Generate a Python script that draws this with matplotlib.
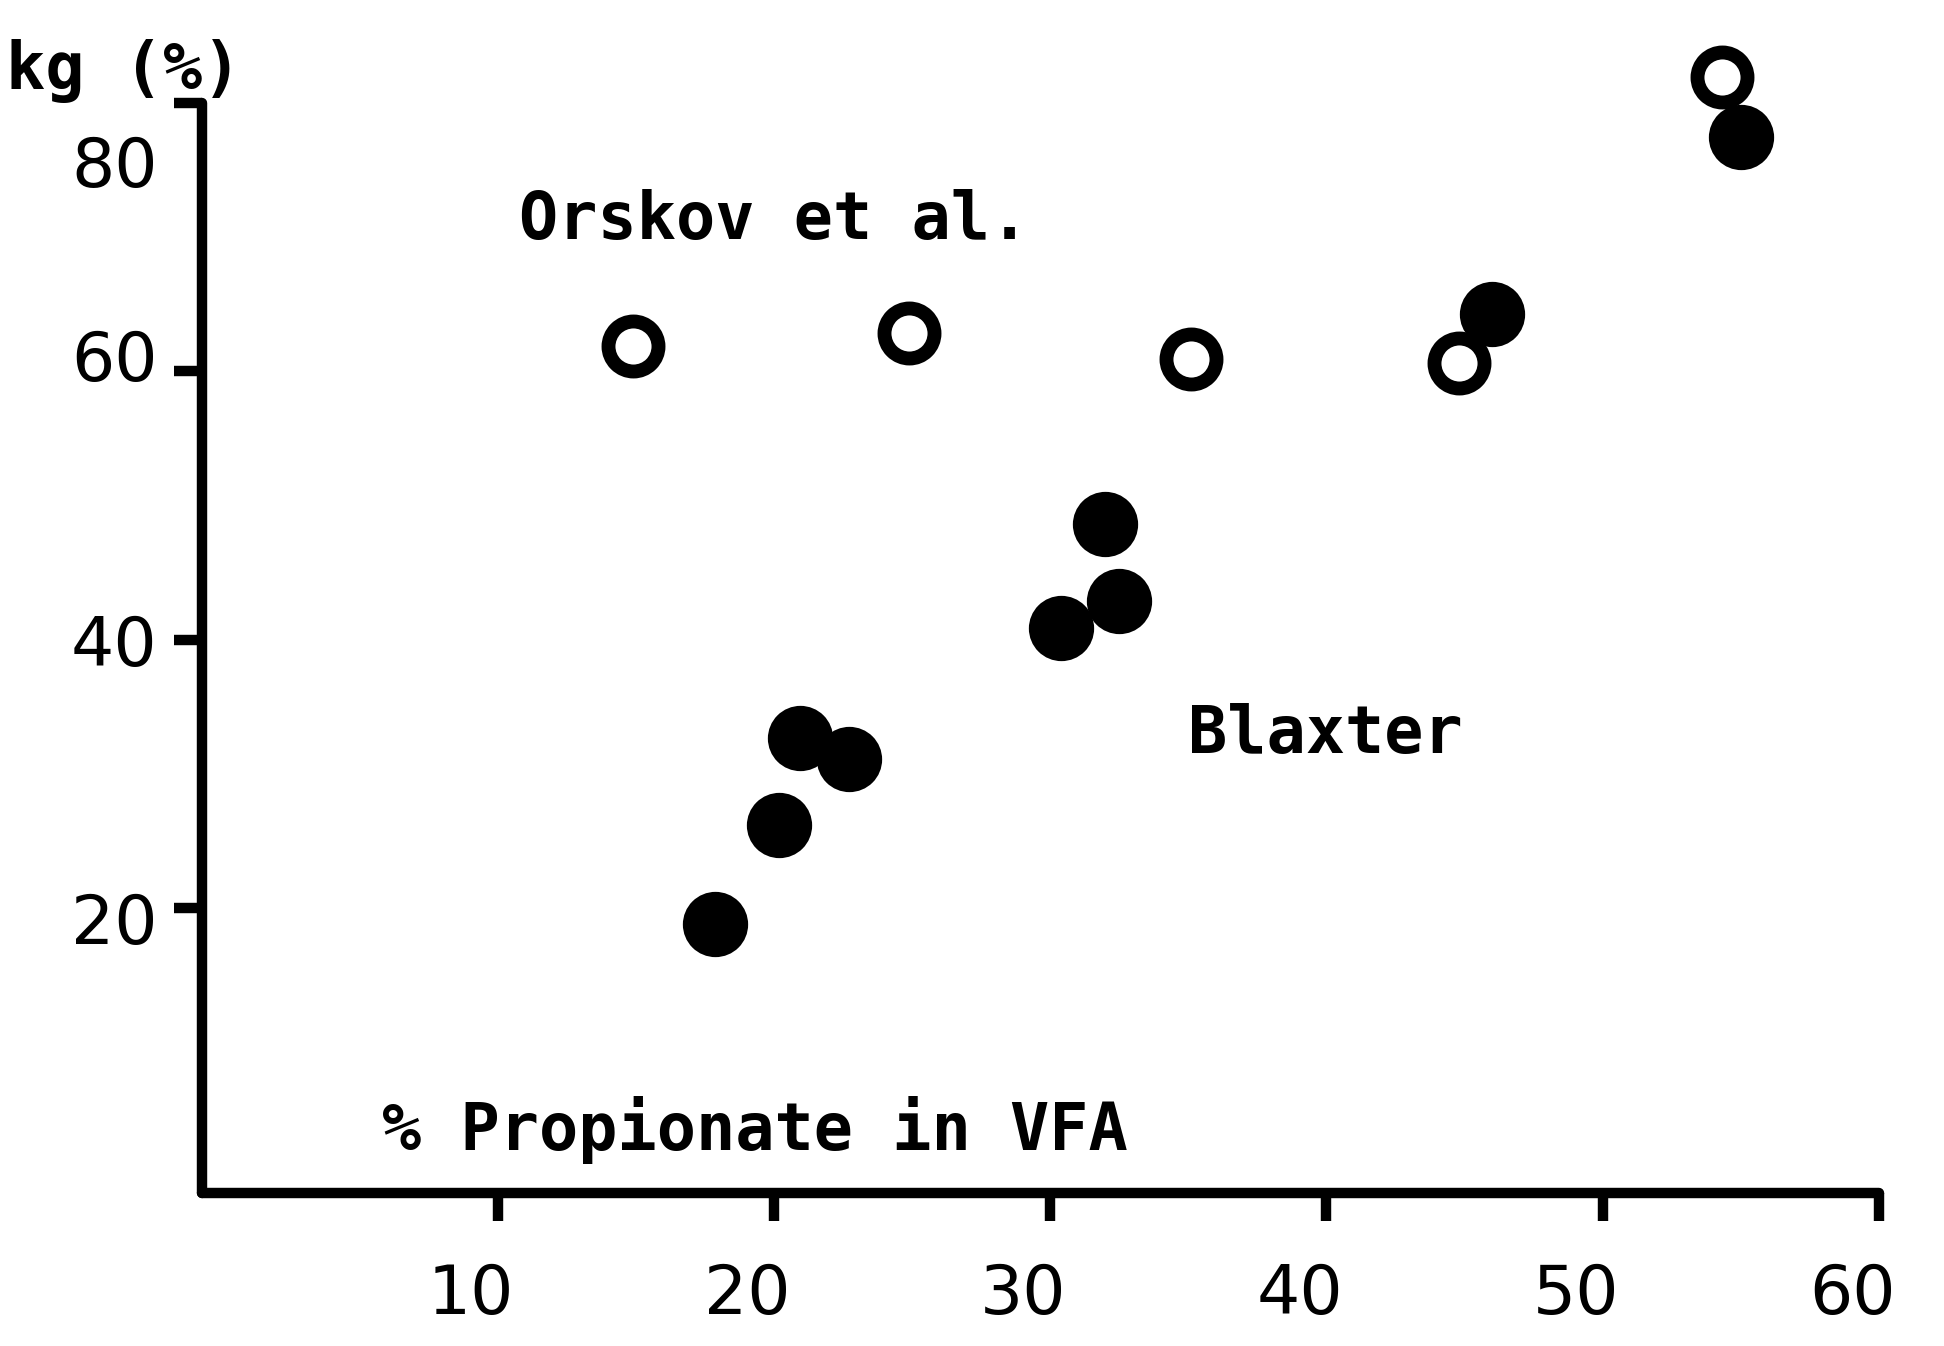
import matplotlib
matplotlib.use("Agg")
import matplotlib.pyplot as plt
import matplotlib.transforms as mtransforms

# Values
orskov_x = [14.9, 24.9, 35.1, 44.8, 54.3]
orskov_y = [61.9, 62.9, 60.9, 60.6, 81.9]

blaxter_x = [17.85, 20.2, 20.95, 22.7, 30.4, 32.0, 32.5, 46.0, 55.0]
blaxter_y = [18.8, 26.2, 32.7, 31.1, 40.9, 48.6, 42.9, 64.3, 77.5]

x_ticks = [10, 20, 30, 40, 50, 60]
y_ticks = [20, 40, 60, 80]

FONT = "DejaVu Sans Mono"
FS = 47
LW = 7.5

plt.rcParams["font.family"] = FONT
plt.rcParams["font.weight"] = "bold"

fig = plt.figure(figsize=(19.44, 13.46), dpi=100)
ax = fig.add_axes([0.1039, 0.1137, 0.8627, 0.8098])

ax.plot(blaxter_x, blaxter_y, "o", color="black", ms=47, mew=0,
        clip_on=False, zorder=3)
ax.plot(orskov_x, orskov_y, "o", mfc="white", mec="black", ms=36, mew=10,
        clip_on=False, zorder=4)

ax.set_xlim(-0.7, 60)
ax.set_ylim(-1.2, 80)

for side in ("top", "right"):
    ax.spines[side].set_visible(False)
for side in ("left", "bottom"):
    ax.spines[side].set_linewidth(LW)
    ax.spines[side].set_capstyle("round")

ax.set_xticks(x_ticks)
ax.set_yticks(y_ticks)
ax.tick_params(axis="both", direction="out", length=20, width=LW,
               labelsize=FS, color="black")
ax.tick_params(axis="x", pad=30)
ax.tick_params(axis="y", pad=12)

# plain zeros (the mono face draws a dotted zero)
for lbl in ax.get_xticklabels() + ax.get_yticklabels():
    lbl.set_fontfamily("DejaVu Sans")
    lbl.set_fontweight("normal")
    lbl.set_fontsize(49)

# hand-lettered labels sit a little off their ticks
for lbl in ax.get_xticklabels():
    lbl.set_transform(lbl.get_transform() +
                      mtransforms.ScaledTranslation(-0.27, 0, fig.dpi_scale_trans))
y_shift = [-0.10, 0.0, 0.16, -0.58]
for lbl, dy in zip(ax.get_yticklabels(), y_shift):
    lbl.set_transform(lbl.get_transform() +
                      mtransforms.ScaledTranslation(0, dy, fig.dpi_scale_trans))

ax.text(10.76, 71.2, "Orskov et al.", fontsize=FS, va="center", ha="left")
ax.text(35.0, 32.9, "Blaxter", fontsize=FS, va="center", ha="left")
ax.text(5.8, 3.5, "% Propionate in VFA", fontsize=FS, va="center", ha="left")
ax.text(-7.8, 82.4, "kg (%)", fontsize=FS, va="center", ha="left",
        clip_on=False)

fig.savefig("out.png", dpi=100, facecolor="white")
